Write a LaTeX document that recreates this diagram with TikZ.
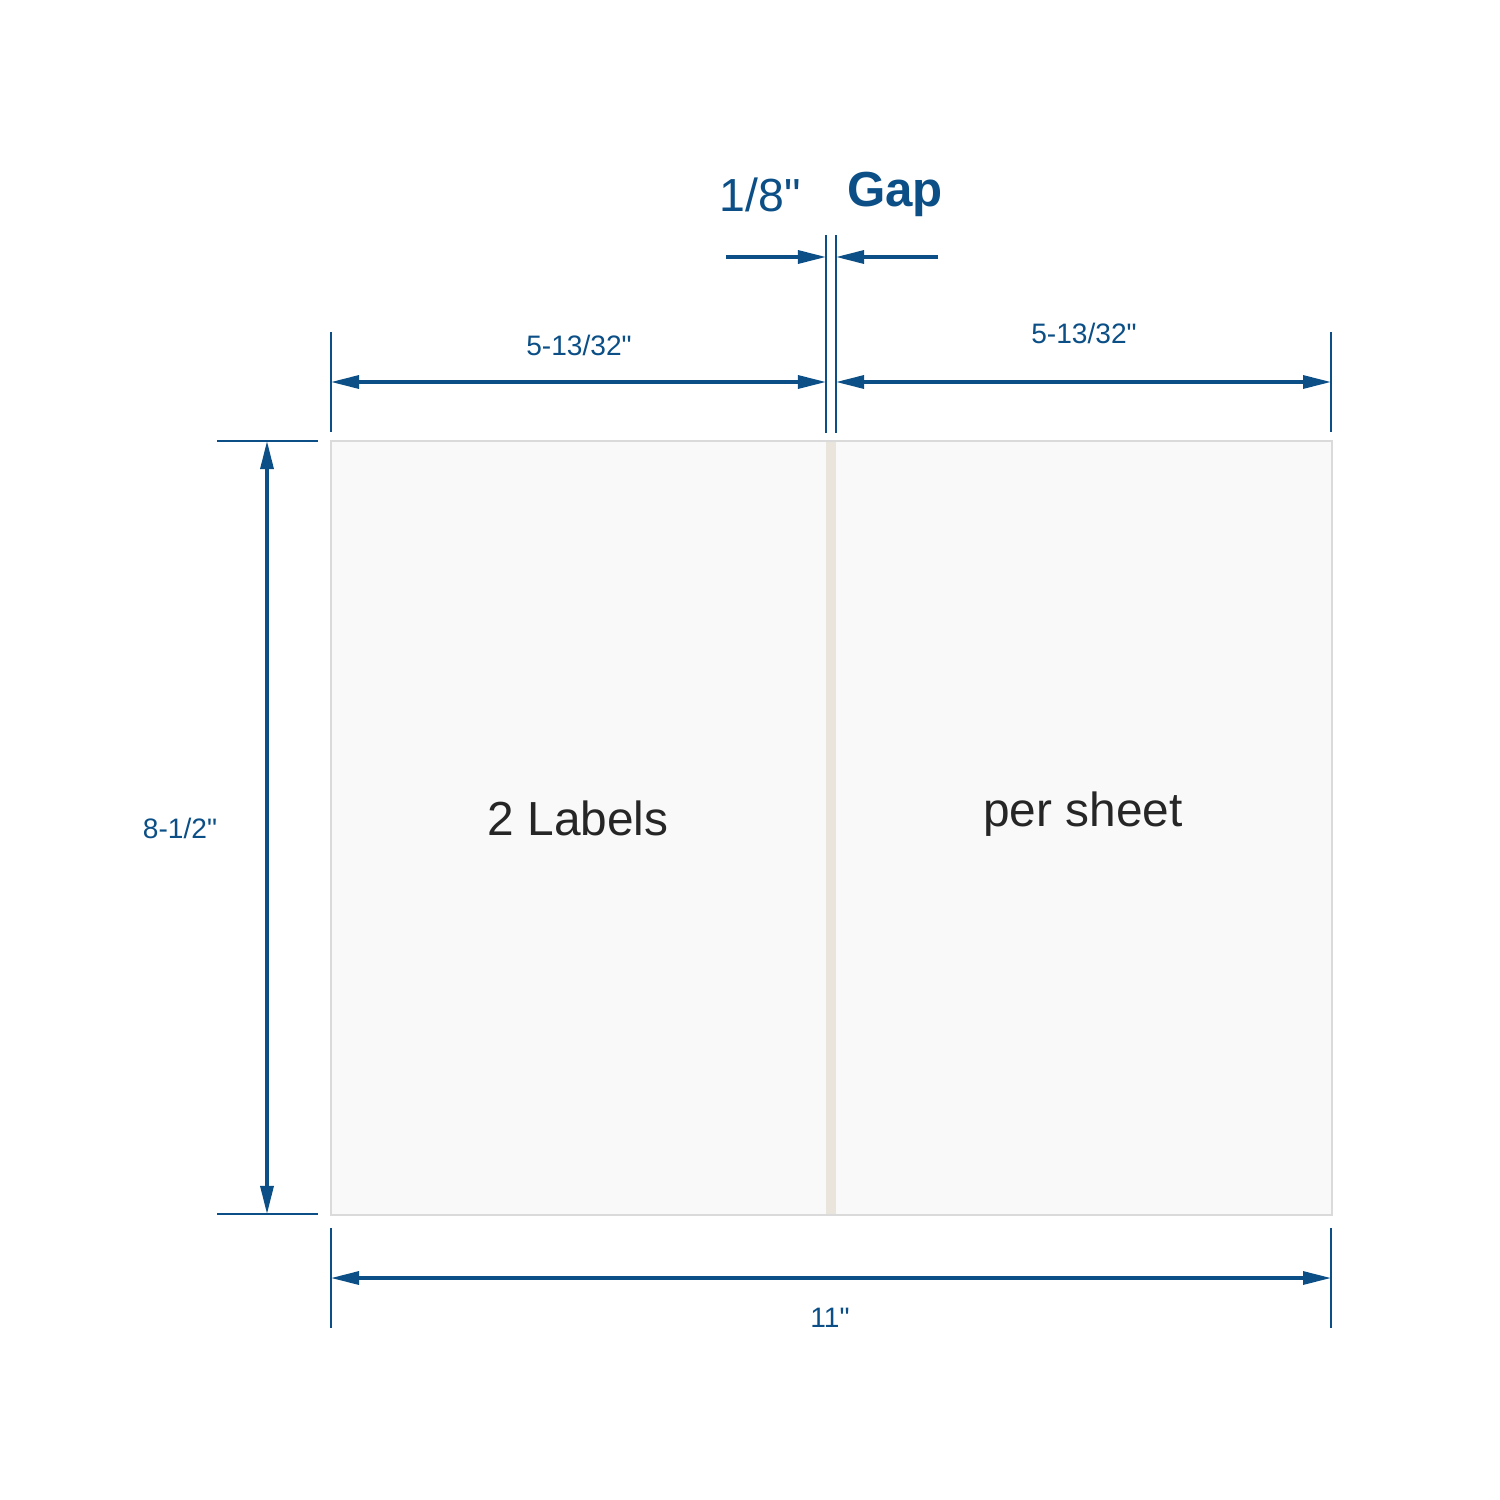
\documentclass[tikz,border=0pt]{standalone}
\usepackage{fontspec}
\setmainfont{Liberation Sans}
\usepackage{xcolor}
\usetikzlibrary{arrows.meta}
\definecolor{dimblue}{HTML}{0B4F86}
\definecolor{sheetgrey}{HTML}{F9F9F9}
\definecolor{edgegrey}{HTML}{DADADA}
\definecolor{gapbeige}{HTML}{E9E5DD}
\definecolor{textgrey}{HTML}{262626}
\newcommand{\inch}{\textquotedbl}
\tikzset{
  dimtip/.tip={Triangle[length=0.28cm,width=0.13cm]},
  dimline/.style={dimblue, line width=0.9pt, -dimtip},
  dimboth/.style={dimblue, line width=0.9pt, dimtip-dimtip},
  extline/.style={dimblue, line width=0.65pt},
  dimtext/.style={dimblue, font=\fontsize{8}{10}\selectfont},
}

\begin{document}
\begin{tikzpicture}[x=0.01cm, y=-0.01cm]
\useasboundingbox (0,0) rectangle (1500,1500);

% sheet with its two labels
\fill[sheetgrey] (331,441) rectangle (1332,1215);
\fill[gapbeige] (826,441) rectangle (836,1215);
\draw[edgegrey, line width=0.5pt] (331,441) rectangle (1332,1215);

\node[textgrey, font=\fontsize{13.6}{16}\selectfont] (lab1) at (578,818) {2 Labels};
\node[textgrey, font=\fontsize{13.6}{16}\selectfont] (lab2) at (1083,814) {per sheet};

% extension lines
\coordinate (tl) at (331,332);  \coordinate (tl2) at (331,432);
\coordinate (tr) at (1331,332); \coordinate (tr2) at (1331,432);
\coordinate (ga) at (826,235);  \coordinate (ga2) at (826,433);
\coordinate (gb) at (836,235);  \coordinate (gb2) at (836,433);
\draw[extline] (tl) -- (tl2);
\draw[extline] (tr) -- (tr2);
\draw[extline] (ga) -- (ga2);
\draw[extline] (gb) -- (gb2);

% top widths
\draw[dimboth] (331,382) -- (826,382);
\draw[dimboth] (836,382) -- (1331,382);
\node[dimtext] (w1) at (579,345) {5-13/32\inch};
\node[dimtext] (w2) at (1084,333) {5-13/32\inch};

% gap
\draw[dimline] (726,257) -- (826,257);
\draw[dimline] (938,257) -- (836,257);
\node[dimblue, font=\fontsize{13.2}{16}\selectfont] (gapw) at (760,195) {1/8\inch};
\node[dimblue, font=\fontsize{14}{16}\selectfont\bfseries] (gapt) at (895,194) {Gap};

% height
\draw[extline] (217,441) -- (318,441);
\draw[extline] (217,1214) -- (318,1214);
\draw[dimboth] (267,441) -- (267,1214);
\node[dimtext] (ht) at (180,828) {8-1/2\inch};

% full width
\draw[extline] (331,1228) -- (331,1328);
\draw[extline] (1331,1228) -- (1331,1328);
\draw[dimboth] (331,1278) -- (1331,1278);
\node[dimtext] (wd) at (830,1318) {11\inch};

\end{tikzpicture}
\end{document}
